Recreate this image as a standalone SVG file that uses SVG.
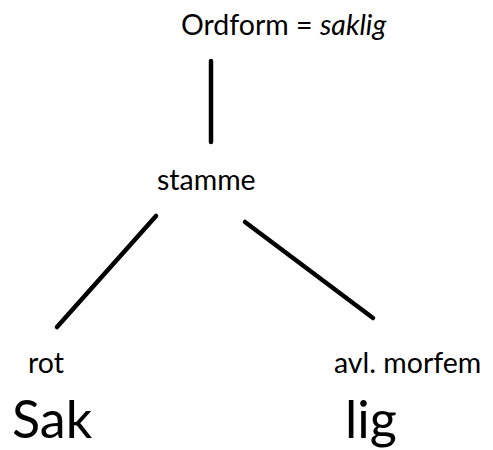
<svg xmlns="http://www.w3.org/2000/svg" width="493" height="450" viewBox="0 0 493 450">
<style>
text{font-family:Lato,"Liberation Sans",sans-serif;fill:#000}
.s{font-size:28.5px}
.b{font-size:52px}
.c{stroke:#000;stroke-width:4.5;stroke-linecap:round;fill:none}
</style>
<rect width="493" height="450" fill="#fff"/>
<g id="connectors">
<line class="c" x1="211" y1="61" x2="211" y2="142"/>
<line class="c" x1="156" y1="216" x2="57" y2="327"/>
<line class="c" x1="245" y1="222" x2="373" y2="318"/>
</g>
<g id="ordform"><text class="s" x="181" y="35">Ordform = <tspan font-style="italic">saklig</tspan></text></g>
<g id="stamme"><text class="s" x="157" y="190">stamme</text></g>
<g id="rot"><text class="s" x="28" y="373">rot</text><text class="b" x="12" y="438">Sak</text></g>
<g id="avl"><text class="s" x="334" y="373">avl. morfem</text><text class="b" x="345" y="438">lig</text></g>
</svg>
